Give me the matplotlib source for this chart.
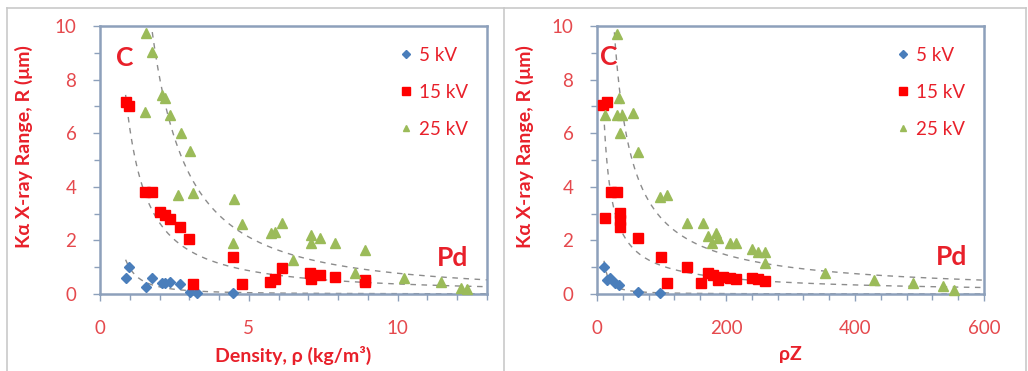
import numpy as np
import matplotlib
matplotlib.use("Agg")
import matplotlib.pyplot as plt
from matplotlib.lines import Line2D

plt.rcParams['font.family'] = ['Lato', 'DejaVu Sans']

# ---------------- data: left panel (density) ----------------
rho_5 = [0.86, 0.97, 1.53, 1.73, 2.07, 2.18, 2.35, 2.68, 3.02, 3.26, 4.47]
R_rho_5 = [0.59, 1.02, 0.27, 0.58, 0.40, 0.40, 0.46, 0.37, 0.09, 0.04, 0.03]

rho_15 = [0.86, 0.97, 1.51, 1.76, 2.01, 2.18, 2.35, 2.68, 2.99, 3.11, 4.47, 4.77,
          5.70, 5.87, 6.10, 7.05, 7.10, 7.38, 7.89, 8.89, 8.90]
R_rho_15 = [7.18, 7.01, 3.79, 3.79, 3.05, 2.95, 2.79, 2.49, 2.05, 0.37, 1.37, 0.38,
            0.44, 0.56, 0.98, 0.77, 0.55, 0.71, 0.65, 0.52, 0.45]

rho_25 = [1.53, 1.76, 2.07, 2.18, 2.35, 1.51, 2.72, 3.02, 2.61, 3.13, 4.51, 4.78,
          4.47, 5.76, 5.87, 6.10, 6.49, 7.10, 7.10, 7.38, 7.89, 8.89, 8.56, 10.20,
          11.45, 12.13, 12.33]
R_rho_25 = [9.75, 9.04, 7.43, 7.30, 6.68, 6.80, 6.00, 5.35, 3.69, 3.76, 3.53, 2.62,
            1.91, 2.26, 2.32, 2.66, 1.27, 2.20, 1.89, 2.08, 1.89, 1.64, 0.80, 0.58,
            0.45, 0.22, 0.20]

# ---------------- data: right panel (rho*Z) ----------------
rz_5 = [10.9, 15.0, 20.0, 28.0, 34.6, 64.0, 97.7]
R_rz_5 = [1.02, 0.52, 0.59, 0.40, 0.34, 0.09, 0.03]

rz_15 = [9.8, 16.0, 21.0, 30.5, 12.4, 35.0, 35.0, 36.0, 64.0, 98.7, 109.0, 140.0,
         162.0, 172.6, 180.0, 188.0, 196.0, 206.0, 215.0, 240.0, 250.0, 260.0]
R_rz_15 = [7.05, 7.18, 3.82, 3.82, 2.85, 3.01, 2.76, 2.51, 2.08, 1.39, 0.40, 1.00,
           0.42, 0.77, 0.71, 0.52, 0.65, 0.59, 0.55, 0.59, 0.55, 0.50]

rz_25 = [31.5, 34.6, 12.4, 31.5, 38.0, 56.0, 35.7, 64.0, 97.7, 109.0, 140.0, 164.0,
         172.6, 179.0, 184.5, 188.0, 206.0, 215.0, 240.0, 250.0, 260.0, 260.0,
         353.0, 430.0, 490.0, 536.0, 554.0]
R_rz_25 = [9.70, 7.30, 6.68, 6.68, 6.68, 6.77, 6.00, 5.31, 3.63, 3.69, 2.64, 2.64,
           2.16, 1.91, 2.26, 2.08, 1.89, 1.89, 1.67, 1.58, 1.58, 1.15,
           0.79, 0.52, 0.40, 0.28, 0.15]

series_labels = ['5 kV', '15 kV', '25 kV']
x_labels = ['Density, \u03c1 (kg/m\u00b3)', '\u03c1Z']
y_label = 'K\u03b1 X-ray Range, R (\u03bcm)'

RED = '#e8202a'
TICKRED = '#e5494d'
SPINE = '#8da0bb'
FIT = '#8c8c8c'
colors = ['#4a7ebb', '#ff0000', '#9bbb59']
markers = ['D', 's', '^']
msizes = [5.5, 7.5, 7]

W, H = 1028, 371
fig = plt.figure(figsize=(W / 100, H / 100), dpi=100)

# panel frames
for xs, ys in [([7, 1026], [363, 363]), ([7, 7], [0, 363]), ([504, 504], [0, 363]),
               ([1026, 1026], [0, 363])]:
    fig.add_artist(Line2D([x / W for x in xs], [y / H for y in ys], color='#c9c9c9',
                          lw=1.2, transform=fig.transFigure))


def powfit(x, y, xmax):
    x = np.asarray(x, float)
    y = np.asarray(y, float)
    b, la = np.polyfit(np.log(x), np.log(y), 1)
    xx = np.linspace(x.min(), xmax, 400)
    return xx, np.exp(la) * xx ** b


def setup(ax, xmax, xmajor, xminor, xlabel, xlab_y, ylab_x, cpos, pdpos, legx):
    ax.set_xlim(0, xmax)
    ax.set_ylim(0, 10)
    ax.set_xticks(np.arange(0, xmax + 1e-9, xmajor))
    ax.set_xticks(np.arange(0, xmax + 1e-9, xminor), minor=True)
    ax.set_yticks(np.arange(0, 10.01, 2))
    ax.set_yticks(np.arange(0, 10.01, 1), minor=True)
    for s in ax.spines.values():
        s.set_color(SPINE)
        s.set_linewidth(1.8)
    ax.tick_params(which='both', direction='out', color=SPINE, width=1.0)
    ax.tick_params(which='major', length=5, labelsize=13.5, labelcolor=TICKRED)
    ax.tick_params(which='minor', length=4)
    ax.tick_params(axis='x', which='major', pad=14)
    ax.tick_params(axis='y', which='major', pad=12)
    ax.set_xlabel(xlabel, color=RED, fontsize=14, fontweight='bold')
    ax.set_ylabel(y_label, color=RED, fontsize=14, fontweight='bold')
    ax.xaxis.set_label_coords(0.5, xlab_y)
    ax.yaxis.set_label_coords(ylab_x, 0.55)
    ax.text(cpos[0], cpos[1], 'C', color=RED, fontsize=19, fontweight='bold',
            ha='center', va='center')
    ax.text(pdpos[0], pdpos[1], 'Pd', color=RED, fontsize=19, fontweight='bold',
            ha='center', va='center')
    leg = ax.legend(loc='upper left', bbox_to_anchor=(legx, 0.95), frameon=False,
                    fontsize=13.5, labelspacing=1.07, handletextpad=0.35,
                    handlelength=0.7, borderaxespad=0, markerscale=0.7)
    for t in leg.get_texts():
        t.set_color(RED)


panels = [
    ([rho_5, rho_15, rho_25], [R_rho_5, R_rho_15, R_rho_25], 13, 5, 1, x_labels[0],
     -0.195, -0.173, (0.84, 8.8), (11.85, 1.35), 0.755, (100, 487)),
    ([rz_5, rz_15, rz_25], [R_rz_5, R_rz_15, R_rz_25], 600, 200, 40, x_labels[1],
     -0.195, -0.163, (18.5, 8.85), (549, 1.38), 0.755, (597, 984)),
]

for xs_list, ys_list, xmax, xmaj, xmin, xl, xly, ylx, cpos, pdpos, legx, (l, r) in panels:
    ax = fig.add_axes([l / W, (H - 294) / H, (r - l) / W, 268 / H])
    for xs, ys in zip(xs_list, ys_list):
        xx, yy = powfit(xs, ys, xmax)
        ax.plot(xx, yy, ls=(0, (4, 4)), color=FIT, lw=1.0, zorder=1)
    for xs, ys, c, m, ms, lab in zip(xs_list, ys_list, colors, markers, msizes,
                                      series_labels):
        ax.plot(xs, ys, ls='none', marker=m, color=c, ms=ms, label=lab, zorder=3,
                clip_on=False)
    setup(ax, xmax, xmaj, xmin, xl, xly, ylx, cpos, pdpos, legx)

fig.savefig('out.png', dpi=100)
